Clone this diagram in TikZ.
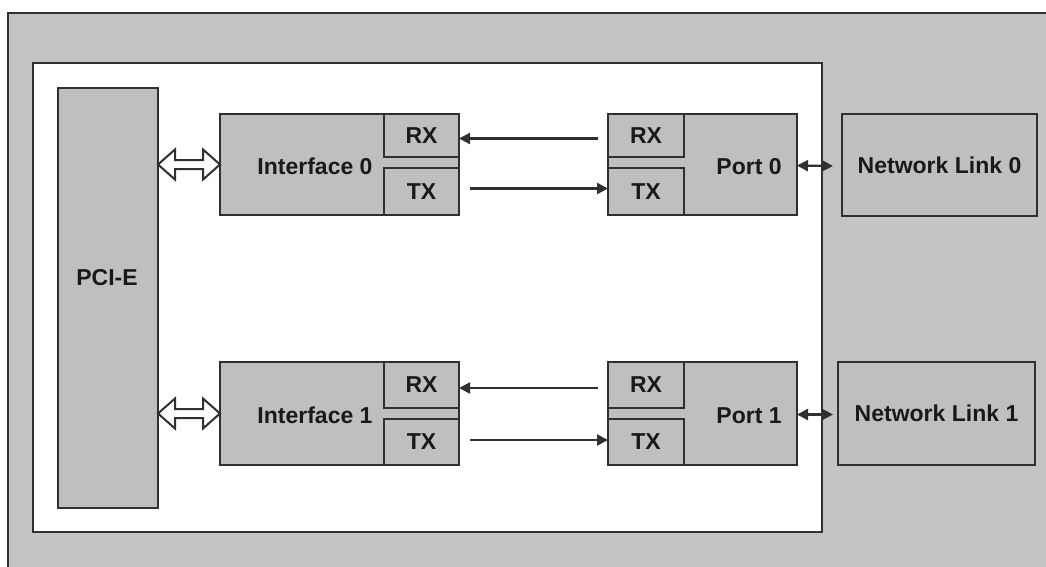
\documentclass[tikz,border=0pt]{standalone}
\usepackage{fontspec}
\setmainfont{Liberation Sans}
\usetikzlibrary{arrows.meta,calc}
\definecolor{bggray}{RGB}{196,196,196}
\definecolor{boxgray}{RGB}{191,191,191}
\definecolor{edge}{RGB}{48,48,48}
\definecolor{ink}{RGB}{25,25,25}
\begin{document}
\begin{tikzpicture}[x=1pt,y=-1pt,
  box/.style={draw=edge, fill=boxgray, line width=1.8pt, inner sep=0pt, outer sep=0pt, anchor=north west, text=ink, font=\fontsize{23}{26}\selectfont\bfseries},
  lbl/.style={font=\fontsize{23}{26}\selectfont\bfseries, text=ink, inner sep=0pt},
  sig/.style={draw=edge, line width=2.2pt, -{Triangle[length=11pt,width=11pt]}},
  link/.style={draw=edge, line width=2.2pt, {Triangle[length=11pt,width=11pt]}-{Triangle[length=11pt,width=11pt]}},
  bus/.style={draw=edge, line width=2pt, fill=white, line join=miter}]
\clip (0,0) rectangle (1046,566);
\fill[white] (0,0) rectangle (1046,566);
% frames
\node[box, fill=bggray, minimum width=1060, minimum height=570] (outer) at (8,13) {};
\node[box, fill=white, minimum width=789, minimum height=469] (board) at (33,63) {};
% PCI-E
\node[box, minimum width=100, minimum height=420] (pci) at (58,88) {};
\node[lbl] (pcilbl) at (107,278) {PCI-E};
% Interface 0
\node[box, minimum width=239, minimum height=101] (if0) at (220,114) {};
\node[box, minimum width=75, minimum height=43] (irx0) at (384,114) {RX};
\node[box, minimum width=75, minimum height=47] (itx0) at (384,168) {TX};
\node[lbl] (if0lbl) at (315,166) {Interface 0};
% Interface 1
\node[box, minimum width=239, minimum height=103] (if1) at (220,362) {};
\node[box, minimum width=75, minimum height=46] (irx1) at (384,362) {RX};
\node[box, minimum width=75, minimum height=46] (itx1) at (384,419) {TX};
\node[lbl] (if1lbl) at (315,415) {Interface 1};
% Port 0
\node[box, minimum width=189, minimum height=101] (port0) at (608,114) {};
\node[box, minimum width=76, minimum height=43] (prx0) at (608,114) {RX};
\node[box, minimum width=76, minimum height=47] (ptx0) at (608,168) {TX};
\node[lbl] (p0lbl) at (749,167) {Port 0};
% Port 1
\node[box, minimum width=189, minimum height=103] (port1) at (608,362) {};
\node[box, minimum width=76, minimum height=46] (prx1) at (608,362) {RX};
\node[box, minimum width=76, minimum height=46] (ptx1) at (608,419) {TX};
\node[lbl] (p1lbl) at (749,416) {Port 1};
% Network links
\node[box, minimum width=195, minimum height=102] (net0) at (842,114) {Network Link 0};
\node[box, minimum width=197, minimum height=103] (net1) at (838,362) {Network Link 1};
% PCI-E buses
\foreach \i in {0,1}{
  \coordinate (a\i) at (pci.east |- if\i.west);
  \coordinate (b\i) at (if\i.west);
  \draw[bus] (a\i) -- ++(17,-15) -- ++(0,10.5) -- ($(b\i)+(-17,-4.5)$) -- ++(0,-10.5) -- (b\i)
    -- ++(-17,15) -- ++(0,-10.5) -- ($(a\i)+(17,4.5)$) -- ++(0,10.5) -- cycle;
}
% RX / TX signals
\draw[sig] ($(prx0.west)+(-10,3)$) -- ($(irx0.east)+(0,3)$);
\draw[sig] ($(itx0.east)+(11,-3)$) -- ($(ptx0.west)+(0,-3)$);
\draw[sig] ($(prx1.west)+(-10,3)$) -- ($(irx1.east)+(0,3)$);
\draw[sig] ($(itx1.east)+(11,-2)$) -- ($(ptx1.west)+(0,-2)$);
% port to network link
\draw[link] ($(port0.east)+(0,1)$) -- ($(net0.west)+(-9,1)$);
\draw[link] ($(port1.east)+(0,1)$) -- ($(net1.west)+(-5,1)$);
\end{tikzpicture}
\end{document}
